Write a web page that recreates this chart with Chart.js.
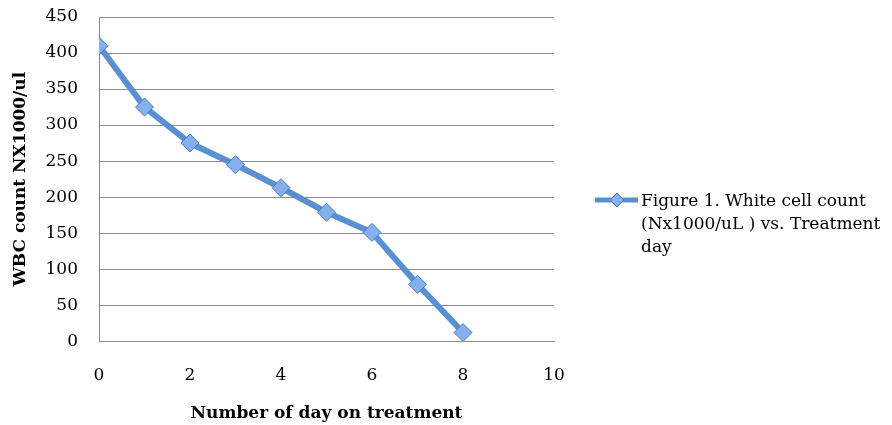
<!DOCTYPE html>
<html>
<head>
<meta charset="utf-8">
<script src="https://cdn.jsdelivr.net/npm/chart.js@4.4.1/dist/chart.umd.min.js"></script>
<style>
  html, body { margin: 0; padding: 0; background: #fff; }
  #wrap { width: 892px; height: 425px; position: relative; }
</style>
</head>
<body>
<div id="wrap"><canvas id="chart"></canvas></div>
<script>
// data
const days      = [0, 1, 2, 3, 4, 5, 6, 7, 8];
const wbcCount  = [410, 325, 275, 245, 213, 179, 151, 79, 12];
const seriesName = ['Figure 1. White cell count', '(Nx1000/uL ) vs. Treatment', 'day'];
const xTitle = 'Number of day on treatment';
const yTitle = 'WBC count NX1000/ul';

const serif     = '"DejaVu Serif", "Liberation Serif", serif';
const lineBlue  = '#5a8fd2';
const markFill  = '#86b0ec';
const markEdge  = '#4a7cc0';
const gridGray  = '#8c8c8c';
const clear     = 'rgba(0,0,0,0)';

// legend at the right, wrapped over three lines like the original
const sideLegend = {
  id: 'sideLegend',
  afterDraw(chart) {
    const ctx = chart.ctx;
    const y0 = 200;
    ctx.save();
    ctx.strokeStyle = lineBlue;
    ctx.lineWidth = 5;
    ctx.beginPath();
    ctx.moveTo(595, y0);
    ctx.lineTo(638, y0);
    ctx.stroke();
    ctx.fillStyle = markFill;
    ctx.strokeStyle = markEdge;
    ctx.lineWidth = 1;
    ctx.beginPath();
    ctx.moveTo(617, y0 - 7);
    ctx.lineTo(624, y0);
    ctx.lineTo(617, y0 + 7);
    ctx.lineTo(610, y0);
    ctx.closePath();
    ctx.fill();
    ctx.stroke();
    ctx.fillStyle = '#000';
    ctx.font = '17px ' + serif;
    ctx.textBaseline = 'middle';
    seriesName.forEach((t, i) => ctx.fillText(t, 641, y0 + 2 + i * 23));
    ctx.restore();
  }
};

new Chart(document.getElementById('chart'), {
  type: 'scatter',
  data: {
    datasets: [{
      label: seriesName.join(' '),
      data: days.map((d, i) => ({ x: d, y: wbcCount[i] })),
      showLine: true,
      borderColor: lineBlue,
      borderWidth: 6,
      pointStyle: 'rectRot',
      pointRadius: 9,
      pointHoverRadius: 9,
      pointBackgroundColor: markFill,
      pointBorderColor: markEdge,
      pointBorderWidth: 1
    }]
  },
  options: {
    responsive: true,
    maintainAspectRatio: false,
    animation: false,
    layout: { padding: { left: 0, right: 338, top: 17, bottom: 0 } },
    plugins: {
      legend: { display: false },
      tooltip: { enabled: false }
    },
    scales: {
      x: {
        type: 'linear',
        min: 0,
        max: 10,
        // invisible grid/ticks, only used to push the labels down
        grid: { display: true, color: clear, drawTicks: true, tickLength: 24, tickColor: clear },
        border: { display: true, color: gridGray, width: 1 },
        ticks: {
          stepSize: 2,
          padding: 0,
          color: '#000',
          font: { family: serif, size: 17 }
        },
        title: {
          display: true,
          text: xTitle,
          color: '#000',
          font: { family: serif, size: 17, weight: 'bold' },
          padding: { top: 18, bottom: 1 }
        }
      },
      y: {
        min: 0,
        max: 450,
        afterFit(scale) { scale.width = 99; },
        grid: { color: gridGray, lineWidth: 1, drawTicks: true, tickLength: 21, tickColor: clear },
        border: { display: true, color: gridGray, width: 1 },
        ticks: {
          stepSize: 50,
          padding: 0,
          color: '#000',
          font: { family: serif, size: 17 }
        },
        title: {
          display: true,
          text: yTitle,
          color: '#000',
          font: { family: serif, size: 17, weight: 'bold' },
          padding: { top: 10, bottom: 0 }
        }
      }
    }
  },
  plugins: [sideLegend]
});
</script>
</body>
</html>
